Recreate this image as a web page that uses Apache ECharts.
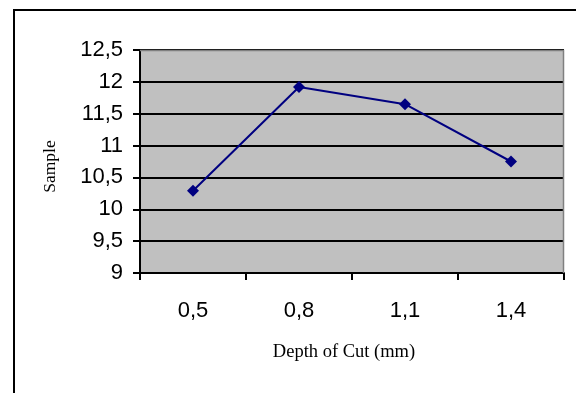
<!DOCTYPE html>
<html>
<head>
<meta charset="utf-8">
<script src="https://cdn.jsdelivr.net/npm/echarts@6/dist/echarts.min.js"></script>
<style>
html,body{margin:0;padding:0;background:#fff;}
#c{width:576px;height:393px;}
</style>
</head>
<body>
<div id="c"></div>
<script>
var categories = ['0,5', '0,8', '1,1', '1,4'];
var sampleValues = [10.29, 11.92, 11.65, 10.75];
var yMin = 9, yMax = 12.5, yStep = 0.5;
var xTitle = 'Depth of Cut (mm)';
var yTitle = 'Sample';

var chart = echarts.init(document.getElementById('c'), null, {renderer: 'canvas'});
chart.setOption({
  animation: false,
  backgroundColor: '#ffffff',
  graphic: [
    {type: 'polyline', shape: {points: [[14, 393], [14, 10], [576, 10]]},
     style: {stroke: '#000', lineWidth: 2, fill: null}, z: 10},
    {type: 'polyline', shape: {points: [[140, 50.5], [563.5, 50.5], [563.5, 273]]},
     style: {stroke: '#808080', lineWidth: 1.5, fill: null}, z: 10}
  ],
  grid: {left: 140, right: 12, top: 50, bottom: 120, show: true,
         backgroundColor: '#c0c0c0', borderWidth: 0},
  xAxis: {
    type: 'category', data: categories, boundaryGap: true,
    axisLine: {lineStyle: {color: '#000', width: 2}},
    axisTick: {show: true, length: 7, lineStyle: {color: '#000', width: 2}},
    axisLabel: {color: '#000', fontFamily: 'Liberation Sans', fontSize: 22, margin: 27},
    name: xTitle, nameLocation: 'middle', nameGap: 70,
    nameTextStyle: {color: '#000', fontFamily: 'Liberation Serif', fontSize: 18.5, padding: [0, 16, 0, 0]}
  },
  yAxis: {
    type: 'value', min: yMin, max: yMax, interval: yStep,
    axisLine: {show: true, lineStyle: {color: '#000', width: 2}},
    axisTick: {show: true, length: 7, lineStyle: {color: '#000', width: 2}},
    splitLine: {show: true, lineStyle: {color: '#000', width: 2}},
    axisLabel: {color: '#000', fontFamily: 'Liberation Sans', fontSize: 22, margin: 17,
      formatter: function (v) { return String(v).replace('.', ','); }},
    name: yTitle, nameLocation: 'middle', nameGap: 81, nameRotate: 90,
    nameTextStyle: {color: '#000', fontFamily: 'Liberation Serif', fontSize: 17.5, padding: [0, 10, 0, 0]}
  },
  series: [{
    type: 'line', data: sampleValues,
    lineStyle: {color: '#000080', width: 2},
    itemStyle: {color: '#000080'},
    symbol: 'diamond', symbolSize: 12, showSymbol: true, z: 5
  }]
});
</script>
</body>
</html>
